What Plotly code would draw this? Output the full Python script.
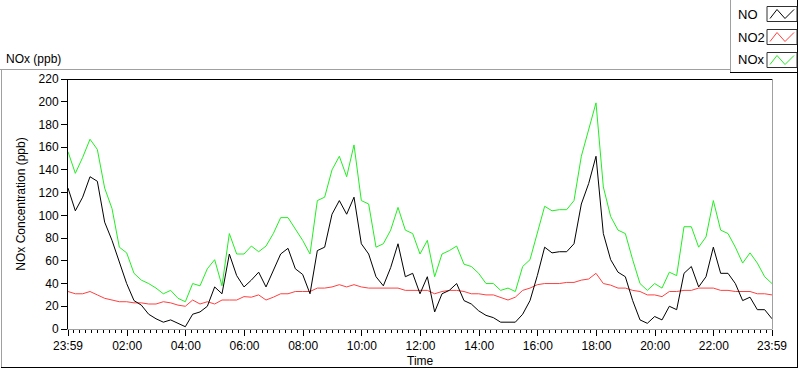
import pandas as pd
import numpy as np
import plotly.graph_objects as go

# ---------------- data (15-minute readings, starting 23:59) ----------------
START = "2024-01-01 23:59"
N_POINTS = 97
STEP = "15min"

NOx = [156, 137, 151, 167, 158, 124, 106, 72, 67, 49, 43, 40, 36, 31, 34, 27, 24,
       40, 38, 53, 61, 38, 84, 66, 66, 73, 68, 73, 84, 98, 98, 88, 78, 66, 113, 116,
       140, 152, 134, 162, 113, 110, 72, 75, 87, 107, 87, 84, 66, 78, 46, 66, 69, 73,
       57, 55, 49, 40, 40, 34, 36, 33, 55, 61, 84, 108, 104, 105, 105, 113, 152, 175,
       199, 125, 99, 87, 84, 61, 40, 34, 40, 36, 50, 47, 90, 90, 72, 81, 113, 87, 84,
       72, 58, 67, 58, 46, 40]

NO = [124, 104, 116, 134, 130, 94, 78, 58, 40, 25, 21, 13, 9, 6, 8, 5, 2,
      13, 15, 20, 37, 31, 66, 47, 37, 43, 50, 37, 52, 66, 71, 53, 48, 31, 69, 72,
      101, 113, 101, 116, 75, 66, 46, 38, 54, 75, 46, 49, 31, 46, 15, 31, 34, 40,
      25, 22, 16, 12, 10, 6, 6, 6, 13, 25, 47, 72, 67, 68, 68, 75, 110, 128,
      152, 84, 61, 50, 46, 25, 8, 5, 11, 8, 20, 17, 49, 55, 37, 46, 72, 49, 49,
      40, 25, 28, 17, 17, 9]

NO2 = [33, 31, 31, 33, 30, 27, 25.5, 24, 24, 23, 23, 22, 22, 24, 23, 21, 20,
       25.5, 22, 24, 22, 25.5, 25.5, 25.5, 28.5, 28, 30, 25.5, 28, 31, 31, 33, 33, 33, 36, 36,
       37, 39, 37, 39, 37, 36, 36, 36, 36, 36, 34, 34, 34, 34, 31, 33, 34, 34,
       33, 31, 31, 30, 30, 28, 25.5, 28, 34, 36, 39, 40, 40, 40, 41, 41, 43, 44,
       49, 40, 38.6, 36, 36, 34, 33, 30, 30, 28.5, 33, 33, 34, 34, 36, 36, 36, 34, 34,
       33, 33, 33, 31, 31, 30]

SERIES_NAMES = ["NO", "NO2", "NOx"]
SERIES_COLORS = ["#000000", "#FF4040", "#22EE22"]

TICK_LABELS = ["23:59", "02:00", "04:00", "06:00", "08:00", "10:00", "12:00",
               "14:00", "16:00", "18:00", "20:00", "22:00", "23:59"]
Y_TICKS = [0, 20, 40, 60, 80, 100, 120, 140, 160, 180, 200, 220]

# ---------------- build ----------------
start = pd.Timestamp(START)
end = start + pd.Timedelta(hours=24)
times = pd.date_range(start, periods=N_POINTS, freq=STEP)

tick_vals = [start] + [pd.Timestamp(f"2024-01-02 {lab}") for lab in TICK_LABELS[1:-1]] + [end]
minor_vals = []
for a, b in zip(tick_vals[:-1], tick_vals[1:]):
    for i in range(1, 10):
        minor_vals.append(a + (b - a) * i / 10)

fig = go.Figure()
# NOx drawn first (behind), then NO2, then NO on top
for name, vals, col in zip(SERIES_NAMES[::-1], [NOx, NO2, NO], SERIES_COLORS[::-1]):
    fig.add_trace(go.Scatter(x=times, y=vals, mode="lines", name=name,
                             line=dict(color=col, width=1), showlegend=False))

L, R, T, B = 68, 28, 79, 40
W, H = 800, 369
PW, PH = W - L - R, H - T - B


def px(x):
    return (x - L) / PW


def py(y):
    return (H - B - y) / PH


FONT = "Liberation Sans, Arial, sans-serif"

shapes = []


def line(x0, y0, x1, y1, color, width=1):
    shapes.append(dict(type="line", xref="paper", yref="paper",
                       x0=px(x0), y0=py(y0), x1=px(x1), y1=py(y1),
                       line=dict(color=color, width=width), layer="above"))


# outer frame
line(0, 69.5, 730, 69.5, "#A0A0A0")
line(1.5, 69.5, 1.5, 367, "#A0A0A0")
line(1, 367.5, 797, 367.5, "#000000")
line(797.5, 0, 797.5, 368, "#000000")
# legend box
line(730.5, 0, 730.5, 72, "#A0A0A0")
line(730, 72.5, 798, 72.5, "#000000")
# plot frame (top / right)
line(68, 79.5, 772.5, 79.5, "#000000")
line(772.5, 79.5, 772.5, 329.5, "#A0A0A0")

annotations = [dict(text="NOx (ppb)", xref="paper", yref="paper", x=px(4), y=py(59),
                    xanchor="left", yanchor="middle", showarrow=False,
                    font=dict(family=FONT, size=12, color="#000000")),
               dict(text="Time", xref="paper", yref="paper", x=px(420), y=py(361),
                    xanchor="center", yanchor="middle", showarrow=False,
                    font=dict(family=FONT, size=12, color="#000000"))]

# custom legend: text on left, zigzag icon box on right
leg_y = [14, 37, 60]
for name, col, yc in zip(SERIES_NAMES, SERIES_COLORS, leg_y):
    annotations.append(dict(text=name, xref="paper", yref="paper", x=px(736), y=py(yc),
                            xanchor="left", yanchor="middle", showarrow=False,
                            font=dict(family=FONT, size=13, color="#000000")))
    top, bot = yc - 7.5, yc + 7.5
    shapes.append(dict(type="rect", xref="paper", yref="paper",
                       x0=px(767), x1=px(797), y0=py(bot), y1=py(top),
                       line=dict(color="#303030", width=1), fillcolor="white", layer="above"))
    zz = [(770, bot - 3), (777, top + 3), (785, bot - 3), (794, top + 3)]
    path = "M " + " L ".join(f"{px(a)},{py(b)}" for a, b in zz)
    shapes.append(dict(type="path", xref="paper", yref="paper", path=path,
                       line=dict(color=col, width=1), layer="above"))

fig.update_layout(
    width=W, height=H,
    margin=dict(l=L, r=R, t=T, b=B),
    paper_bgcolor="white", plot_bgcolor="white",
    font=dict(family=FONT, size=12, color="#000000"),
    shapes=shapes, annotations=annotations,
    showlegend=False,
)

fig.update_xaxes(
    range=[start, end], tickmode="array", tickvals=tick_vals, ticktext=TICK_LABELS,
    automargin=False,
    showgrid=False, zeroline=False, showline=True, linecolor="#A0A0A0", linewidth=1,
    ticks="outside", ticklen=6, tickcolor="#000000", tickwidth=1,
    tickfont=dict(family=FONT, size=12, color="#000000"),
    minor=dict(tickmode="array", tickvals=minor_vals, ticks="outside", ticklen=3,
               tickcolor="#000000", showgrid=False),
)
fig.update_yaxes(
    range=[0, 220], tickmode="array", tickvals=Y_TICKS,
    automargin=False,
    showgrid=False, zeroline=False, showline=True, linecolor="#000000", linewidth=1,
    ticks="outside", ticklen=6, tickcolor="#000000", tickwidth=1,
    tickfont=dict(family=FONT, size=12, color="#000000"),
    title=dict(text="NOx Concentration (ppb)",
               font=dict(family=FONT, size=12, color="#000000"), standoff=10),
)

fig.write_html("out.html", config={"displayModeBar": False},
               post_script="document.body.style.margin='0';")
